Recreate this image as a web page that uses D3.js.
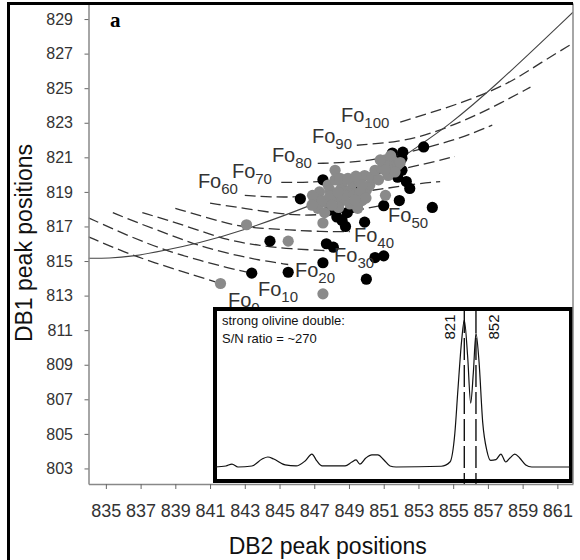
<!DOCTYPE html>
<html>
<head>
<meta charset="utf-8">
<script src="https://cdn.jsdelivr.net/npm/d3@7"></script>
<style>
body { margin: 0; background: #fff; }
text { font-family: "Liberation Sans", Arial, sans-serif; }
</style>
</head>
<body>
<svg id="chart" width="580" height="560"></svg>
<script>
// axis ticks
var db2Ticks = [835, 837, 839, 841, 843, 845, 847, 849, 851, 853, 855, 857, 859, 861];
var db1Ticks = [803, 805, 807, 809, 811, 813, 815, 817, 819, 821, 823, 825, 827, 829];

// Fo iso-lines, [DB2, DB1]
var foLevels = [0, 10, 20, 30, 40, 50, 60, 70, 80, 90, 100];
var foCurves = [
	[[834.0,816.4],[836.1,815.5],[837.8,814.9],[839.7,814.3],[841.3,813.8]],
	[[834.0,817.5],[836.4,816.4],[838.75,815.5],[840.4,815.05],[842.0,814.6],[843.2,814.35]],
	[[835.4,817.8],[836.85,817.2],[838.75,816.5],[840.3,815.9],[842.0,815.45],[843.8,815.05],[845.5,814.8]],
	[[837.1,817.8],[838.6,817.35],[840.3,816.8],[842.0,816.2],[843.8,815.9],[845.6,815.7],[847.8,815.6]],
	[[839.0,818.05],[840.7,817.55],[842.4,817.05],[843.8,816.9],[845.6,816.8],[847.3,816.7],[849.05,816.7]],
	[[841.0,818.35],[843.6,817.95],[845.6,817.65],[847.3,817.65],[849.3,817.9],[851.05,818.25]],
	[[843.0,818.8],[844.45,818.7],[846.2,818.7],[848.5,818.85],[850.8,819.15],[853.1,819.5],[854.25,819.6]],
	[[845.1,819.55],[847.2,819.55],[849.6,819.8],[852.7,820.45],[855.1,821.05]],
	[[847.2,820.65],[849.05,820.7],[850.8,820.9],[853.65,821.6],[855.4,822.1],[857.25,822.86]],
	[[849.45,821.7],[851.95,821.9],[853.65,822.35],[855.6,823.1],[857.3,823.9],[859.45,825.06]],
	[[851.95,823.04],[853.65,823.56],[855.95,824.31],[858.25,825.29],[860.0,826.45],[861.9,827.6]]
];
// where each Fo label sits, [DB2, DB1]
var foLabelAt = [
	[842.03,812.35],[843.76,813.0],[845.89,814.06],[848.14,814.93],[849.29,816.09],[851.25,817.25],
	[840.3,819.21],[842.26,819.79],[844.56,820.72],[846.87,821.82],[848.54,823.04]
];

// solid curve
var boundary = [[834.0,815.16],[835.2,815.16],[836.44,815.25],[838.4,815.62],[840.3,816.03],[842.8,816.72],
	[846.9,818.23],[850.2,819.68],[853.2,821.8],[854.6,822.75],[857.3,825.0],[861.9,829.4]];

// measured samples
var blackPts = [[853.3,821.6],[852.1,821.3],[852.5,819.2],[852.3,819.6],[851.9,818.5],[851.0,818.2],[853.8,818.1],
	[849.9,817.25],[848.8,817.0],[847.7,816.0],[848.1,815.8],[850.5,815.2],[851.0,815.3],[847.5,814.9],
	[850.0,813.95],[845.5,814.35],[843.4,814.3],[844.45,816.15],[846.2,818.6],[847.5,819.7],[851.8,819.85],
	[852.05,820.25],[851.0,820.65],[851.5,821.25],[852.05,820.95],[847.9,817.95],[848.3,817.55],[848.9,817.8],
	[849.2,818.1],[848.6,817.35],[849.6,819.4]];
var grayPts = [[848.2,820.25],[843.1,817.1],[845.5,816.15],[841.6,813.7],[847.5,813.1],[847.5,817.2],[851.1,818.8],
	[847.0,818.5],[847.3,819.0],[847.8,819.4],[848.2,819.7],[848.6,819.4],[849.1,819.1],[849.5,818.8],[849.75,818.5],
	[847.2,818.05],[847.7,818.4],[848.1,818.65],[848.6,818.5],[849.05,818.3],[849.5,818.05],[847.6,817.8],[848.4,818.1],
	[848.8,818.8],[847.9,819.1],[848.5,819.1],[849.2,819.5],[849.6,819.55],[850.0,819.1],[850.2,819.4],[849.9,819.95],
	[850.3,819.85],[850.7,819.7],[850.5,820.25],[850.9,820.35],
	[846.9,818.8],[847.45,818.5],[847.9,818.75],[848.37,818.98],[849.29,818.81],[849.63,818.98],[849.98,818.64],
	[846.87,818.23],[848.02,818.23],[849.35,818.52],[848.48,819.79],[848.94,819.79],[849.4,819.91],[849.75,819.39],
	[851.1,820.85],[851.35,820.55],[851.65,820.7],[851.5,820.25],[851.8,820.55],[851.25,819.95],[851.65,820.15],
	[851.95,820.7],[851.4,821.1],[850.8,820.85],[851.07,820.26]];

// inset spectrum
var ramanShift = [160,189,205,221,258,285,300,316,346,375,399,417,430,444,505,523,534,544,560,576,
	592,608,624,640,760,783,796,804,814,821,830,838,845,852,860,870,881,891,905,918,
	931,942,955,968,984,1000,1103];
var intensity = [0,0.7,2,0,0.7,5.4,6.8,5.4,1.4,0.7,4.1,8.8,4.1,0.7,0.7,3.4,4.8,2,6.1,8.2,
	8.2,4.8,0.7,0,0.5,3.4,23,52,86,100,75,43.5,64,91,72,30,11,4.5,5,8.8,
	3.4,6.1,8.8,6.1,1.4,0,0];
var peakLines = [821, 852];
var insetText = ["strong olivine double:", "S/N ratio = ~270"];

var svg = d3.select("#chart");
var plot = {left: 88.5, right: 573, top: 3.5, bottom: 484};

var x = d3.scaleLinear().domain([834, 861.9]).range([plot.left, plot.right]);
var y = d3.scaleLinear().domain([802.1, 829.9]).range([plot.bottom, plot.top]);

svg.append("rect").attr("width", 580).attr("height", 560).attr("fill", "#fff");

svg.append("defs").append("clipPath").attr("id", "clip")
	.append("rect")
	.attr("x", plot.left)
	.attr("y", plot.top)
	.attr("width", plot.right - plot.left)
	.attr("height", plot.bottom - plot.top);

var g = svg.append("g").attr("clip-path", "url(#clip)");

var line = d3.line()
	.x(function(d) { return x(d[0]); })
	.y(function(d) { return y(d[1]); })
	.curve(d3.curveBasis);

g.selectAll(".fo")
	.data(foCurves)
	.enter().append("path")
	.attr("class", "fo")
	.attr("d", line)
	.attr("fill", "none")
	.attr("stroke", "#333")
	.attr("stroke-width", 1.3)
	.attr("stroke-dasharray", "11,5");

g.append("path")
	.datum(boundary)
	.attr("d", line)
	.attr("fill", "none")
	.attr("stroke", "#444")
	.attr("stroke-width", 1.1);

// Fo labels
var lab = svg.selectAll(".folab")
	.data(foLevels)
	.enter().append("text")
	.attr("class", "folab")
	.attr("x", function(d, i) { return x(foLabelAt[i][0]); })
	.attr("y", function(d, i) { return y(foLabelAt[i][1]); })
	.attr("fill", "#333")
	.style("font-size", "20px");
lab.append("tspan").text("Fo");
lab.append("tspan")
	.attr("dy", 6)
	.style("font-size", "15px")
	.text(function(d) { return d; });

g.selectAll(".blk")
	.data(blackPts)
	.enter().append("circle")
	.attr("cx", function(d) { return x(d[0]); })
	.attr("cy", function(d) { return y(d[1]); })
	.attr("r", 5.6)
	.attr("fill", "#000");

g.selectAll(".gry")
	.data(grayPts)
	.enter().append("circle")
	.attr("cx", function(d) { return x(d[0]); })
	.attr("cy", function(d) { return y(d[1]); })
	.attr("r", 5.6)
	.attr("fill", "#8a8a8a");

// inset
var inset = {left: 215, top: 309, width: 356, height: 172};
var xi = d3.scaleLinear().domain([160, 1104]).range([inset.left, inset.left + inset.width]);
var yi = d3.scaleLinear().domain([0, 100]).range([467, 320]);

svg.append("rect")
	.attr("x", inset.left)
	.attr("y", inset.top)
	.attr("width", inset.width)
	.attr("height", inset.height)
	.attr("fill", "#fff")
	.attr("stroke", "#000")
	.attr("stroke-width", 4);

var spec = d3.line()
	.x(function(d, i) { return xi(ramanShift[i]); })
	.y(function(d) { return yi(d); })
	.curve(d3.curveMonotoneX);

svg.append("path")
	.datum(intensity)
	.attr("d", spec)
	.attr("fill", "none")
	.attr("stroke", "#111")
	.attr("stroke-width", 1.2);

svg.selectAll(".peak")
	.data(peakLines)
	.enter().append("line")
	.attr("x1", function(d) { return xi(d); })
	.attr("x2", function(d) { return xi(d); })
	.attr("y1", inset.top + 2)
	.attr("y2", plot.bottom)
	.attr("stroke", "#000")
	.attr("stroke-width", 1.3)
	.attr("stroke-dasharray", "22,5");

svg.selectAll(".peaklab")
	.data(peakLines)
	.enter().append("text")
	.attr("transform", function(d, i) {
		return "translate(" + (xi(d) + (i == 0 ? -15 : 18)) + ",327) rotate(-90)";
	})
	.attr("text-anchor", "middle")
	.attr("dy", "0.35em")
	.attr("fill", "#111")
	.style("font-size", "15px")
	.text(function(d) { return d; });

svg.selectAll(".itext")
	.data(insetText)
	.enter().append("text")
	.attr("x", inset.left + 7)
	.attr("y", function(d, i) { return 325 + i * 18; })
	.attr("fill", "#111")
	.style("font-size", "13px")
	.text(function(d) { return d; });

// axes
var gx = svg.append("g")
	.attr("transform", "translate(0," + plot.bottom + ")")
	.call(d3.axisBottom(x).tickValues(db2Ticks).tickSize(5).tickSizeOuter(0).tickPadding(15).tickFormat(d3.format("d")));
gx.attr("font-family", null).attr("font-size", null);
gx.select(".domain").attr("stroke", "#888").attr("stroke-width", 1.5);
gx.selectAll(".tick line").attr("stroke", "#666");
gx.selectAll(".tick text").attr("fill", "#333").style("font-size", "18px");

var gy = svg.append("g")
	.attr("transform", "translate(" + plot.left + ",0)")
	.call(d3.axisLeft(y).tickValues(db1Ticks).tickSize(4).tickSizeOuter(0).tickPadding(11.5).tickFormat(d3.format("d")));
gy.attr("font-family", null).attr("font-size", null);
gy.select(".domain").attr("stroke", "#888").attr("stroke-width", 1.5);
gy.selectAll(".tick line").attr("stroke", "#666");
gy.selectAll(".tick text").attr("fill", "#333").style("font-size", "16px");

svg.append("line")
	.attr("x1", plot.right).attr("x2", plot.right)
	.attr("y1", plot.top).attr("y2", plot.bottom)
	.attr("stroke", "#888")
	.attr("stroke-width", 1.5);

// frame
svg.append("path")
	.attr("d", "M8.5,565V3.5H" + plot.right)
	.attr("fill", "none")
	.attr("stroke", "#000")
	.attr("stroke-width", 3);

svg.append("text")
	.attr("x", 110)
	.attr("y", 27)
	.style("font-family", "'Liberation Serif', 'DejaVu Serif', serif")
	.style("font-weight", "bold")
	.style("font-size", "21px")
	.text("a");

svg.append("text")
	.attr("x", (plot.left + plot.right) / 2 - 3)
	.attr("y", 554)
	.attr("text-anchor", "middle")
	.attr("fill", "#111")
	.style("font-size", "23px")
	.text("DB2 peak positions");

svg.append("text")
	.attr("transform", "translate(32,243) rotate(-90)")
	.attr("text-anchor", "middle")
	.attr("fill", "#111")
	.style("font-size", "23px")
	.text("DB1 peak positions");
</script>
</body>
</html>
